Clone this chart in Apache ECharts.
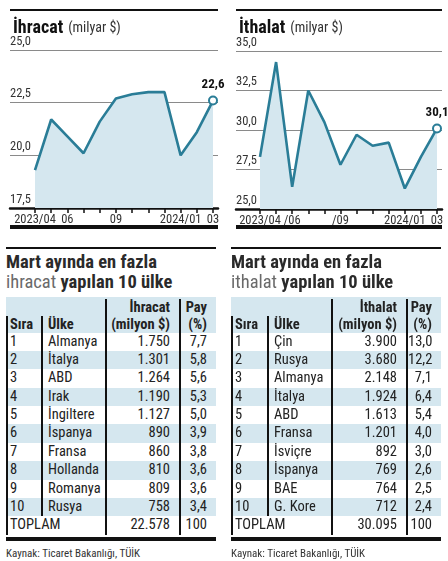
<!DOCTYPE html>
<html>
<head>
<meta charset="utf-8">
<script src="https://cdn.jsdelivr.net/npm/echarts@6/dist/echarts.min.js"></script>
<style>
  html, body { margin: 0; padding: 0; background: #fff; }
  body { width: 448px; height: 561px; position: relative; overflow: hidden;
         font-family: "Roboto Condensed", "Noto Sans Display", sans-serif; color: #222; }
  #chart { position: absolute; left: 0; top: 0; width: 448px; height: 235px; }
  .rule { position: absolute; background: #111; }
  .tbl { position: absolute; top: 247px; }
  .ttl { font-size: 18.5px; line-height: 20px; margin-top: 3px; color: #2a2a2a; font-weight: 700; }
  .ttl .lt { color: #6a6a6a; font-weight: 400; }
  .grid { margin-top: 5px; font-size: 14.5px; }
  .row { display: grid; height: 18.4px; line-height: 18.4px; }
  .row.alt, .row.head { background: #d5e7ef; }
  .row.head { height: 36px; line-height: 17px; font-weight: 700; font-size: 14.5px; align-items: end; }
  .row > div { border-left: 2px solid #111; white-space: nowrap; }
  .c1 { padding-left: 2px; }
  .c2 { padding-left: 5px; }
  .c3 { text-align: right; padding-right: 9px; }
  .c4 { text-align: right; padding-right: 9px; }
  .src { font-size: 11px; color: #333; margin-top: 6px; }
</style>
</head>
<body>
<div id="chart"></div>
<div class="rule" style="left:10px;top:9px;width:208px;height:2px"></div>
<div class="rule" style="left:10px;top:225px;width:208px;height:4px"></div>
<div class="rule" style="left:236px;top:9px;width:206px;height:2px"></div>
<div class="rule" style="left:236px;top:225px;width:206px;height:4px"></div>

<div class="tbl" id="tblL" style="left:6px;width:210px"></div>
<div class="tbl" id="tblR" style="left:231px;width:210px"></div>

<script>
// ---- chart data ----
const months = ['2023/04','2023/05','2023/06','2023/07','2023/08','2023/09','2023/10','2023/11','2023/12','2024/01','2024/02','2024/03'];
const exportTickLabels = ['2023/04','','06','','','09','','','','2024/01','','03'];
const importTickLabels = ['2023/04','','/06','','','/09','','','','2024/01','','03'];
const exportVals = [19.3, 21.7, 20.9, 20.1, 21.6, 22.7, 22.9, 23.0, 23.0, 20.0, 21.1, 22.6];
const importVals = [28.3, 34.3, 26.4, 32.5, 30.5, 27.8, 29.7, 29.0, 29.2, 26.3, 28.3, 30.1];
const exportAxis = [17.5, 25.0];
const importAxis = [25.0, 35.0];

// ---- table data ----
const expCountries = ['Almanya','İtalya','ABD','Irak','İngiltere','İspanya','Fransa','Hollanda','Romanya','Rusya'];
const expValues = [1750, 1301, 1264, 1190, 1127, 890, 860, 810, 809, 758];
const expShares = [7.7, 5.8, 5.6, 5.3, 5.0, 3.9, 3.8, 3.6, 3.6, 3.4];
const expTotal = 22578;
const impCountries = ['Çin','Rusya','Almanya','İtalya','ABD','Fransa','İsviçre','İspanya','BAE','G. Kore'];
const impValues = [3900, 3680, 2148, 1924, 1613, 1201, 892, 769, 764, 712];
const impShares = [13.0, 12.2, 7.1, 6.4, 5.4, 4.0, 3.0, 2.6, 2.5, 2.4];
const impTotal = 30095;

const FONT = '"Roboto Condensed", "Noto Sans Display", sans-serif';
const LINE = '#2a7d97';
const AREA = '#d5e7ef';
const fmt1 = v => v.toFixed(1).replace('.', ',');
const fmtK = v => String(v).replace(/\B(?=(\d{3})+(?!\d))/g, '.');

function panel(idx, wideLeft, wideW, dataLeft, dataW, top, range, labels, vals) {
  const g = idx * 2;
  return {
    grid: [
      { left: wideLeft, top: top, width: wideW, height: 158 },
      { left: dataLeft, top: top, width: dataW, height: 158 }
    ],
    xAxis: [
      { gridIndex: g, type: 'value', min: 0, max: 1, axisLine: { show: true, onZero: false, lineStyle: { color: '#111', width: 2.5 } },
        axisTick: { show: false }, axisLabel: { show: false }, splitLine: { show: false } },
      { gridIndex: g + 1, type: 'category', data: months, boundaryGap: false,
        axisLine: { show: false, onZero: false },
        axisTick: { show: true, interval: 0, length: 5, lineStyle: { color: '#111', width: 1.5 } },
        axisLabel: { interval: 0, margin: 5, fontSize: 12.5, color: '#333', fontFamily: FONT, hideOverlap: false,
          formatter: (v, i) => labels[i] },
        splitLine: { show: false } }
    ],
    yAxis: [
      { gridIndex: g, type: 'value', min: range[0], max: range[1], interval: 2.5,
        axisLine: { show: false }, axisTick: { show: false },
        axisLabel: { inside: true, margin: 0, verticalAlign: 'bottom', padding: [0, 0, 2, 0],
          fontSize: 12.5, color: '#333', fontFamily: FONT, formatter: v => fmt1(v) },
        splitLine: { lineStyle: { color: '#8a8a8a', width: 1 } } },
      { gridIndex: g + 1, type: 'value', min: range[0], max: range[1], interval: 2.5, show: false }
    ],
    series: [{
      type: 'line', xAxisIndex: g + 1, yAxisIndex: g + 1,
      data: vals.map((v, i) => i === vals.length - 1 ? {
        value: v, symbol: 'circle', symbolSize: 8,
        itemStyle: { color: '#fff', borderColor: LINE, borderWidth: 2 },
        label: { show: true, position: 'top', distance: 4, formatter: fmt1(v), fontWeight: 'bold', fontSize: 13, color: '#111', fontFamily: FONT }
      } : { value: v, symbol: 'none' }),
      showSymbol: true, z: 5,
      lineStyle: { color: LINE, width: 2.6 },
      areaStyle: { color: AREA, opacity: 1, origin: 'start' },
      emphasis: { disabled: true }
    }]
  };
}

const p1 = panel(0, 10, 208, 35, 178, 50, exportAxis, exportTickLabels, exportVals);
const p2 = panel(1, 236, 206, 260, 177, 51, importAxis, importTickLabels, importVals);
const chart = echarts.init(document.getElementById('chart'), null, { renderer: 'canvas' });
const titleRich = { b: { fontSize: 18, fontWeight: 'bold', color: '#111', fontFamily: FONT },
                    n: { fontSize: 14, fontWeight: 'normal', color: '#333', fontFamily: FONT } };
chart.setOption({
  animation: false,
  title: [
    { text: '{b|İhracat} {n|(milyar $)}', left: 8, top: 14, textStyle: { fontWeight: 'normal', rich: titleRich } },
    { text: '{b|İthalat} {n|(milyar $)}', left: 234, top: 14, textStyle: { fontWeight: 'normal', rich: titleRich } }
  ],
  grid: p1.grid.concat(p2.grid),
  xAxis: p1.xAxis.concat(p2.xAxis),
  yAxis: p1.yAxis.concat(p2.yAxis),
  series: p1.series.concat(p2.series)
});

function buildTable(el, word, countries, values, shares, total, cols) {
  const tmpl = 'grid-template-columns:' + cols.map(c => c + 'px').join(' ');
  let h = '<div class="rule" style="position:relative;height:1.5px;width:100%"></div>';
  h += '<div class="ttl">Mart ayında en fazla<br><span class="lt">' + word.replace('İ', 'i') + '</span> yapılan 10 ülke</div>';
  h += '<div class="grid">';
  h += '<div class="row head" style="' + tmpl + '"><div class="c1">Sıra</div><div class="c2">Ülke</div>' +
       '<div class="c3">' + word + '<br>(milyon $)</div><div class="c4">Pay<br>(%)</div></div>';
  countries.forEach((c, i) => {
    h += '<div class="row' + (i % 2 === 1 ? ' alt' : '') + '" style="' + tmpl + '">' +
         '<div class="c1">' + (i + 1) + '</div><div class="c2">' + c + '</div>' +
         '<div class="c3">' + fmtK(values[i]) + '</div><div class="c4">' + fmt1(shares[i]) + '</div></div>';
  });
  h += '<div class="row" style="' + tmpl + '"><div class="c1" style="grid-column:span 2">TOPLAM</div>' +
       '<div class="c3">' + fmtK(total) + '</div><div class="c4">100</div></div>';
  h += '</div>';
  h += '<div class="rule" style="position:relative;height:4px;width:100%;margin-top:2px"></div>';
  h += '<div class="src">Kaynak: Ticaret Bakanlığı, TÜİK</div>';
  el.innerHTML = h;
}
buildTable(document.getElementById('tblL'), 'İhracat', expCountries, expValues, expShares, expTotal, [35, 64, 74, 37]);
buildTable(document.getElementById('tblR'), 'İthalat', impCountries, impValues, impShares, impTotal, [36, 64, 75, 35]);
</script>
</body>
</html>
